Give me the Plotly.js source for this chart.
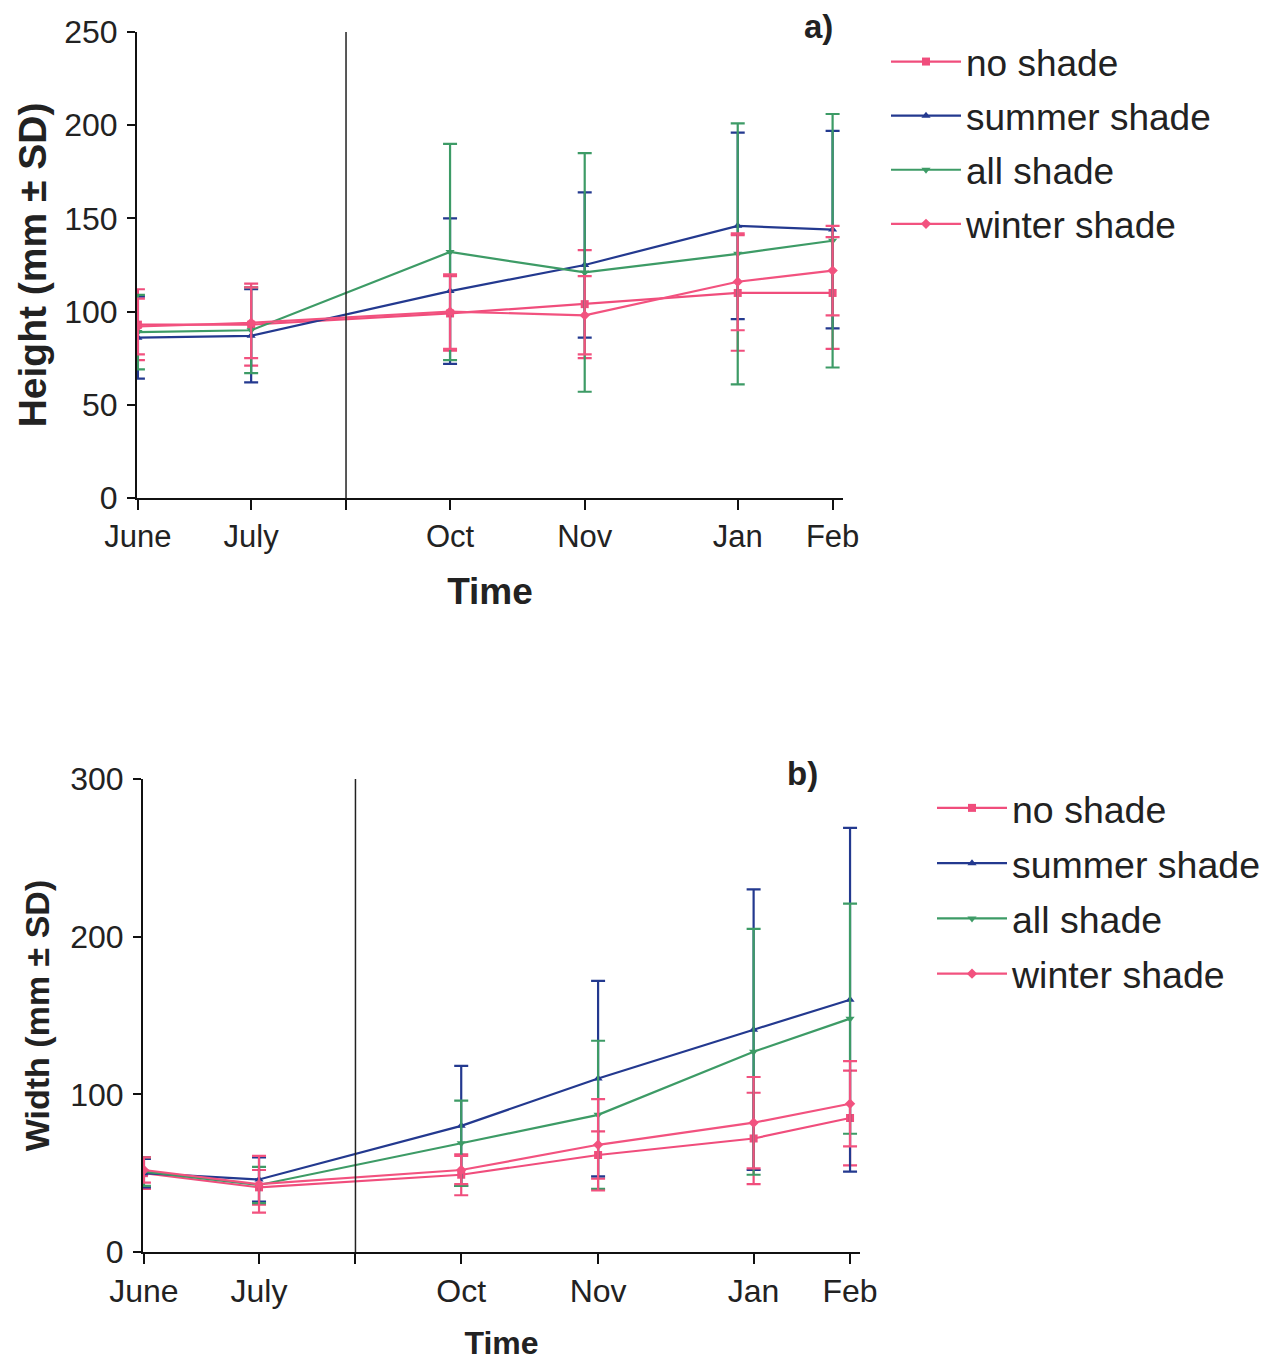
<!DOCTYPE html>
<html>
<head>
<meta charset="utf-8">
<script src="https://cdn.plot.ly/plotly-3.0.1.min.js"></script>
<style>html,body{margin:0;padding:0;background:#fff;}#chart{width:1277px;height:1361px;}</style>
</head>
<body>
<div id="chart"></div>
<script>
// ---- data ----
const months = ['June', 'July', 'Oct', 'Nov', 'Jan', 'Feb'];
const dayNumbers = [0, 37, 102, 146, 196, 227];   // sampling day (days since June)
const breakDay = 68;                                // divider between summer and winter periods
const seriesNames = ['no shade', 'summer shade', 'all shade', 'winter shade'];

// Height (mm) and SD
const heightNoShade = [93, 93, 99, 104, 110, 110];
const heightNoShadeSD = [19, 22, 20, 29, 31, 30];
const heightSummer = [86, 87, 111, 125, 146, 144];
const heightSummerSD = [22, 25, 39, 39, 50, 53];
const heightAll = [89, 90, 132, 121, 131, 138];
const heightAllSD = [20, 23, 58, 64, 70, 68];
const heightWinter = [92, 94, 100, 98, 116, 122];
const heightWinterSD = [15, 19, 20, 21, 26, 24];

// Width (mm) and SD
const widthNoShade = [50, 41, 49, 61.5, 72, 85];
const widthNoShadeSD = [10, 11, 13, 15, 29, 30];
const widthSummer = [50, 46, 80, 110, 141, 160];
const widthSummerSD = [9, 14, 38, 62, 89, 109];
const widthAll = [51, 42.5, 69, 87, 127, 148];
const widthAllSD = [9, 11.5, 27, 47, 78, 73];
const widthWinter = [52, 43, 52, 68, 82, 94];
const widthWinterSD = [8, 18, 9, 29, 29, 27];

const heightTicks = [0, 50, 100, 150, 200, 250];
const widthTicks = [0, 100, 200, 300];

// ---- styles ----
const colors = ['#f04d7c', '#23398f', '#3d9b66', '#f2527f'];
const symbols = ['square', 'triangle-up', 'triangle-down', 'diamond'];
const FONT = 'Liberation Sans, Arial, sans-serif';
const TXT = '#222222';

const heightSets = [[heightNoShade, heightNoShadeSD], [heightSummer, heightSummerSD], [heightAll, heightAllSD], [heightWinter, heightWinterSD]];
const widthSets = [[widthNoShade, widthNoShadeSD], [widthSummer, widthSummerSD], [widthAll, widthAllSD], [widthWinter, widthWinterSD]];

function makeTraces(sets, xa, ya, legendId, prefix) {
  return sets.map((s, i) => ({
    type: 'scatter', mode: 'lines+markers',
    x: dayNumbers, y: s[0], name: seriesNames[i],
    xaxis: xa, yaxis: ya, legend: legendId, legendgroup: prefix + i,
    line: {color: colors[i], width: 2.2},
    marker: {symbol: symbols[i], size: 8, color: colors[i]},
    error_y: {type: 'data', array: s[1], visible: true, color: colors[i], thickness: 2.2, width: 7},
    hoverinfo: 'x+y+name'
  }));
}

const traces = [].concat(
  makeTraces(heightSets, 'x', 'y', 'legend', 'a'),
  makeTraces(widthSets, 'x2', 'y2', 'legend2', 'b')
);

const tickVals = [dayNumbers[0], dayNumbers[1], breakDay].concat(dayNumbers.slice(2));
const tickText = [months[0], months[1], ''].concat(months.slice(2));

function xAxis(domain, range, anchor, fs) {
  return {
    domain: domain, range: range, anchor: anchor,
    tickmode: 'array', tickvals: tickVals, ticktext: tickText,
    ticks: 'outside', ticklen: 10, tickwidth: 2, tickcolor: '#111',
    showline: true, linecolor: '#111', linewidth: 2,
    showgrid: false, zeroline: false,
    tickfont: {family: FONT, size: fs, color: TXT},
    ticklabelstandoff: 0
  };
}
function yAxis(domain, range, anchor, ticks, fs, so) {
  return {
    domain: domain, range: range, anchor: anchor,
    tickmode: 'array', tickvals: ticks,
    ticks: 'outside', ticklen: 8, tickwidth: 2, tickcolor: '#111',
    showline: true, linecolor: '#111', linewidth: 2,
    showgrid: false, zeroline: false,
    tickfont: {family: FONT, size: fs, color: TXT},
    ticklabelstandoff: so
  };
}

const W = 1277, H = 1361;
const xa = xAxis([137 / W, 843 / W], [-0.3, 230.4], 'y', 31);
xa.title = {text: '<b>Time</b>', font: {family: FONT, size: 37, color: TXT}, standoff: 25};
const ya = yAxis([1 - 498 / H, 1 - 32 / H], [0, 250], 'x', heightTicks, 32, 3);
ya.title = {text: '<b>Height (mm ± SD)</b>', font: {family: FONT, size: 39, color: TXT}, standoff: 6};

const xb = xAxis([143 / W, 860 / W], [-0.3, 230.2], 'y2', 32);
xb.title = {text: '<b>Time</b>', font: {family: FONT, size: 32, color: TXT}, standoff: 25};
const yb = yAxis([1 - 1252 / H, 1 - 779 / H], [0, 300], 'x2', widthTicks, 32, 3);
yb.title = {text: '<b>Width (mm ± SD)</b>', font: {family: FONT, size: 34, color: TXT}, standoff: 10};

function legendCfg(x, y, fs, gap) {
  return {
    x: x, y: y, xanchor: 'left', yanchor: 'top',
    font: {family: FONT, size: fs, color: TXT},
    itemwidth: 70, tracegroupgap: gap, traceorder: 'grouped',
    bgcolor: 'rgba(0,0,0,0)', borderwidth: 0
  };
}

const layout = {
  width: W, height: H,
  margin: {l: 0, r: 0, t: 0, b: 0},
  paper_bgcolor: '#ffffff', plot_bgcolor: '#ffffff',
  showlegend: true,
  font: {family: FONT, color: TXT},
  xaxis: xa, yaxis: ya, xaxis2: xb, yaxis2: yb,
  legend: legendCfg(886 / W, 1 - 31 / H, 37, 3),
  legend2: legendCfg(932 / W, 1 - 777 / H, 37.5, 3.5),
  shapes: [
    {type: 'line', xref: 'x', yref: 'y domain', x0: breakDay, x1: breakDay, y0: 0, y1: 1, line: {color: '#222', width: 1.5}},
    {type: 'line', xref: 'x2', yref: 'y2 domain', x0: breakDay, x1: breakDay, y0: 0, y1: 1, line: {color: '#222', width: 1.5}}
  ],
  annotations: [
    {text: '<b>a)</b>', xref: 'paper', yref: 'paper', x: 818 / W, y: 1 - 27 / H, yanchor: 'middle', xanchor: 'center', showarrow: false, font: {family: FONT, size: 33, color: TXT}},
    {text: '<b>b)</b>', xref: 'paper', yref: 'paper', x: 802 / W, y: 1 - 773 / H, yanchor: 'middle', xanchor: 'center', showarrow: false, font: {family: FONT, size: 33, color: TXT}}
  ]
};

Plotly.newPlot('chart', traces, layout, {displayModeBar: false, staticPlot: true});
</script>
</body>
</html>
